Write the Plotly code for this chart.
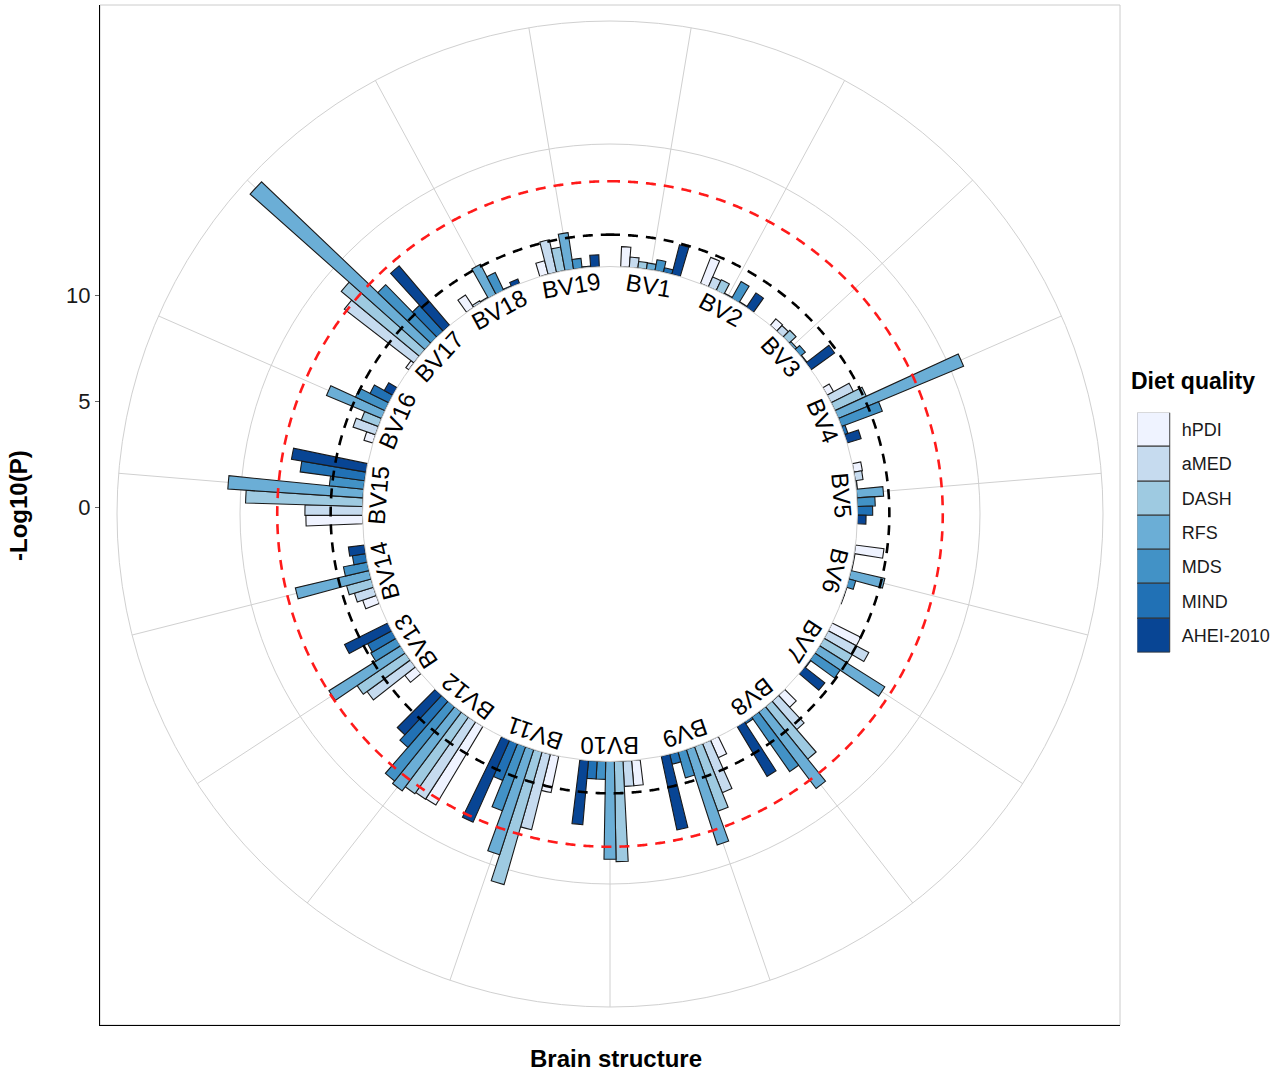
import numpy as np
import plotly.graph_objects as go

# ---------------- data ----------------
groups = [f"BV{i}" for i in range(1, 20)]
diets = ["hPDI", "aMED", "DASH", "RFS", "MDS", "MIND", "AHEI-2010"]
colors = ["#EFF3FF", "#C6DBEF", "#9ECAE1", "#6BAED6", "#4292C6", "#2171B5", "#084594"]

#            BV1   BV2   BV3   BV4   BV5   BV6   BV7   BV8   BV9   BV10  BV11  BV12  BV13  BV14  BV15  BV16  BV17  BV18  BV19
hPDI      = [0.82, 1.15, 0.35, 0.30, 0.35, 1.17, 1.30, 0.67, 0.78, 1.03, 1.52, 3.74, 0.55, 0.59, 2.31, 0.38, 0.15, 0.61, 0.57]
aMED      = [0.42, 0.44, 0.31, 1.02, 0.32, 0.03, 1.88, 1.54, 2.16, 1.03, 3.18, 3.76, 2.18, 0.82, 2.35, 0.97, 3.59, 0.10, 1.36]
DASH      = [0.27, 0.48, 0.39, 1.41, 0.05, 0.03, 1.33, 2.75, 2.80, 4.09, 5.63, 3.82, 2.37, 1.04, 4.78, 0.75, 4.14, 0.05, 0.98]
RFS       = [0.26, 0.05, 0.10, 5.54, 1.09, 1.42, 3.15, 3.91, 4.10, 3.99, 4.52, 4.03, 3.45, 3.09, 5.53, 2.44, 9.55, 1.38, 1.51]
MDS       = [0.45, 0.79, 0.25, 1.78, 0.73, 0.29, 1.25, 2.72, 1.10, 0.73, 2.78, 3.90, 1.19, 0.99, 1.41, 1.33, 2.99, 0.81, 0.40]
MIND      = [0.19, 0.05, 0.05, 0.15, 0.62, 0.02, 0.05, 0.10, 0.42, 0.73, 1.62, 2.50, 1.12, 0.55, 2.66, 0.86, 1.43, 0.05, 0.05]
AHEI_2010 = [1.25, 0.71, 1.18, 0.60, 0.35, 0.02, 1.05, 2.38, 3.08, 2.63, 3.66, 2.20, 1.97, 0.66, 3.09, 0.40, 3.19, 0.20, 0.49]
series = [hPDI, aMED, DASH, RFS, MDS, MIND, AHEI_2010]

nominal_threshold = 1.30      # -log10(0.05)
corrected_threshold = 3.48    # multiple-testing corrected
radial_grid = [5]
y_ticks = [0, 5, 10]

# ---------------- geometry / style ----------------
W, H = 1280, 1072
CX, CY = 610, 514             # circle centre (px)
R_OUT = 493                   # outer circle radius (px)
R_BASE = 247.5                # bar base radius (px)
PX_PER_UNIT = 24.5
DODGE = 2.0                   # angular width of one bar (deg)
LABEL_R = 232
FONT = "Liberation Sans, Arial, sans-serif"
n_g = len(groups)
r_max = (R_OUT - R_BASE) / PX_PER_UNIT

def px2paper(x, y):
    return x / W, 1 - y / H

def group_angle(i):
    return (i + 0.5) * 360.0 / n_g

fig = go.Figure()

# dodged bars in polar coordinates
for k, (name, vals, col) in enumerate(zip(diets, series, colors)):
    fig.add_trace(go.Barpolar(
        r=vals,
        theta=[group_angle(i) + (k - 3) * DODGE for i in range(n_g)],
        width=[DODGE] * n_g,
        name=name, marker=dict(color=col, line=dict(color="#1a1a1a", width=1.1)),
        showlegend=False, hoverinfo="skip"))

# threshold circles
circ = np.linspace(0, 360, 1441)
fig.add_trace(go.Scatterpolar(
    r=[nominal_threshold] * len(circ), theta=circ, mode="lines",
    line=dict(color="black", width=2.6, dash="10px,8px"),
    showlegend=False, hoverinfo="skip"))
fig.add_trace(go.Scatterpolar(
    r=[corrected_threshold] * len(circ), theta=circ, mode="lines",
    line=dict(color="#FF1A1A", width=2.6, dash="10px,8px"),
    showlegend=False, hoverinfo="skip"))

# invisible trace so the outer cartesian frame is drawn
fig.add_trace(go.Scatter(x=[0.5], y=[0], mode="markers", marker=dict(opacity=0),
                         showlegend=False, hoverinfo="skip"))

# legend key drawn as a small stacked bar axis
fig.add_trace(go.Bar(
    x=[1] * len(diets), y=diets, orientation="h",
    marker=dict(color=colors, line=dict(color="#333333", width=1)),
    xaxis="x2", yaxis="y2", showlegend=False, hoverinfo="skip"))

gx0, gy0 = px2paper(CX - R_OUT, CY + R_OUT)
gx1, gy1 = px2paper(CX + R_OUT, CY - R_OUT)

px0, py0 = px2paper(100, 1025)
px1, py1 = px2paper(1120, 5)

lx0, ly0 = px2paper(1137.3, 652.7)
lx1, ly1 = px2paper(1170.7, 412.7)

annotations = []
for i, g in enumerate(groups):
    th = group_angle(i)
    x = CX + LABEL_R * np.sin(np.radians(th))
    y = CY - LABEL_R * np.cos(np.radians(th))
    xp, yp = px2paper(x, y)
    ang = th if th <= 180 else th - 360
    annotations.append(dict(
        x=xp, y=yp, xref="paper", yref="paper", text=g, showarrow=False,
        textangle=ang, xanchor="center", yanchor="middle",
        font=dict(family=FONT, size=24, color="black")))

tx, ty = px2paper(1192.5, 381)
annotations.append(dict(
    x=tx, y=ty, xref="paper", yref="paper", text="Diet quality",
    showarrow=False, xanchor="center", yanchor="middle",
    font=dict(family=FONT, size=23, color="black", weight="bold")))

yx, yy = px2paper(19, 506)
annotations.append(dict(
    x=yx, y=yy, xref="paper", yref="paper", text="-Log10(P)",
    showarrow=False, textangle=-90, xanchor="center", yanchor="middle",
    font=dict(family=FONT, size=24, color="black", weight="bold")))

bx, by = px2paper(616, 1058)
annotations.append(dict(
    x=bx, y=by, xref="paper", yref="paper", text="Brain structure",
    showarrow=False, xanchor="center", yanchor="middle",
    font=dict(family=FONT, size=24, color="black", weight="bold")))

fig.update_layout(
    width=W, height=H, margin=dict(l=0, r=0, t=0, b=0),
    paper_bgcolor="white", plot_bgcolor="rgba(0,0,0,0)",
    font=dict(family=FONT),
    bargap=0,
    polar=dict(
        domain=dict(x=[gx0, gx1], y=[gy0, gy1]),
        bgcolor="white",
        hole=R_BASE / R_OUT,
        barmode="overlay",
        radialaxis=dict(range=[0, r_max], tickvals=radial_grid, showticklabels=False,
                        ticks="", showline=False, gridcolor="#d0d0d0", gridwidth=1),
        angularaxis=dict(direction="clockwise", rotation=90,
                         tickvals=[group_angle(i) for i in range(n_g)],
                         showticklabels=False, ticks="", showline=True,
                         linecolor="#d0d0d0", linewidth=1,
                         gridcolor="#d0d0d0", gridwidth=1),
    ),
    xaxis=dict(domain=[px0, px1], range=[0, 1], showgrid=False, zeroline=False,
               showticklabels=False, ticks="", showline=True, linecolor="black",
               linewidth=1, fixedrange=True),
    yaxis=dict(domain=[py0, py1], range=[(507 - 1025) / 21.2, (507 - 5) / 21.2],
               tickvals=y_ticks, ticks="outside", ticklen=4, tickcolor="#666666",
               showgrid=False, zeroline=False, showline=True, linecolor="black",
               linewidth=1, tickfont=dict(family=FONT, size=22, color="#1a1a1a"),
               fixedrange=True),
    xaxis2=dict(domain=[lx0, lx1], range=[0, 1], visible=False, fixedrange=True),
    yaxis2=dict(domain=[ly0, ly1], anchor="x2", side="right", autorange="reversed",
                showgrid=False, zeroline=False, showline=False, ticks="",
                ticklabelstandoff=10,
                tickfont=dict(family=FONT, size=18, color="#1a1a1a"), fixedrange=True),
    shapes=[dict(type="rect", xref="paper", yref="paper", x0=px0, x1=px1, y0=py0, y1=py1,
                 line=dict(color="#cccccc", width=1), layer="below")],
    annotations=annotations,
)

fig.write_html("out.html", config={"displayModeBar": False},
               post_script="document.body.style.margin='0px';")
